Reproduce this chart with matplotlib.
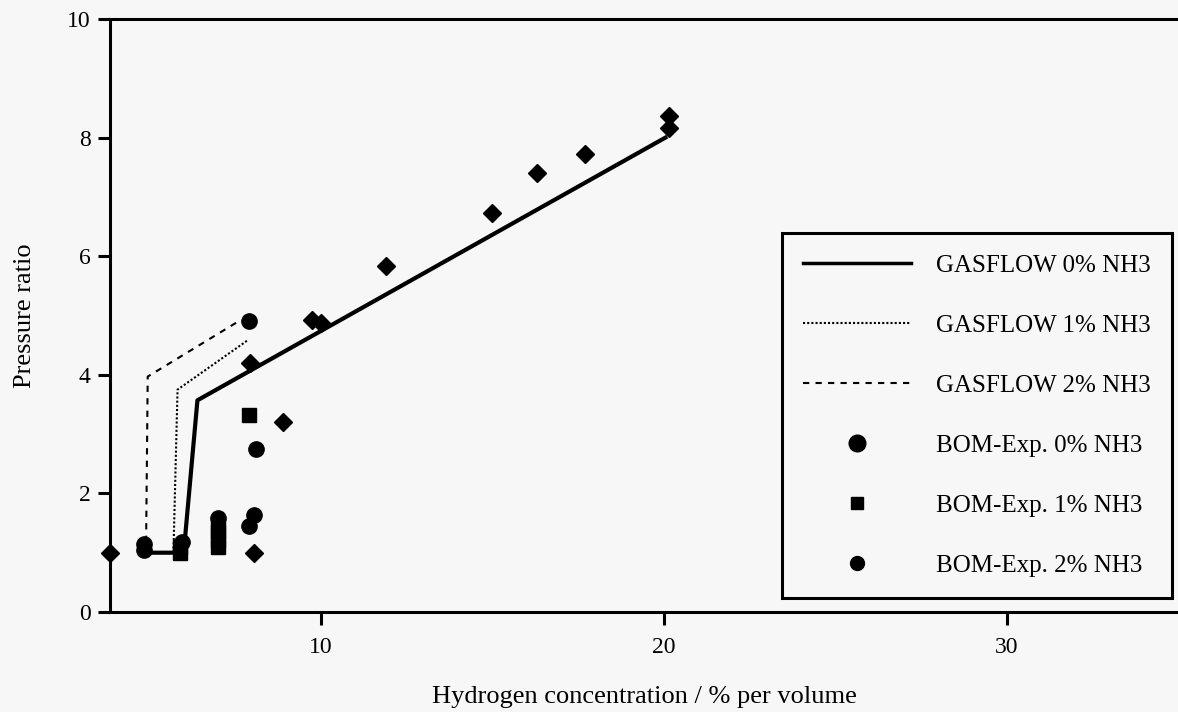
import matplotlib.pyplot as plt
from matplotlib.lines import Line2D

plt.rcParams['font.family'] = ['Liberation Serif', 'DejaVu Serif']

# GASFLOW simulation curves (H2 concentration vs pressure ratio)
gf0_x = [4.85, 6.0, 6.4, 20.05]
gf0_y = [1.0, 1.0, 3.57, 8.0]
gf1_x = [4.85, 5.7, 5.82, 7.86]
gf1_y = [1.0, 1.0, 3.75, 4.58]
gf2_x = [4.85, 4.9, 4.95, 7.65]
gf2_y = [1.0, 1.0, 3.97, 4.92]

# BOM experiments
exp0_x = [3.85, 8.05, 7.93, 8.9, 9.75, 10.0, 11.9, 15.0, 16.3, 17.7, 20.15, 20.15]
exp0_y = [1.0, 1.0, 4.2, 3.2, 4.93, 4.88, 5.83, 6.73, 7.4, 7.72, 8.37, 8.17]
exp1_x = [5.9, 5.9, 7.0, 7.0, 7.0, 7.0, 7.9]
exp1_y = [1.0, 1.1, 1.1, 1.22, 1.35, 1.45, 3.33]
exp2_x = [4.85, 4.85, 5.95, 7.0, 7.9, 8.05, 8.1, 7.9]
exp2_y = [1.05, 1.15, 1.18, 1.58, 1.45, 1.63, 2.75, 4.9]

fig = plt.figure(figsize=(11.78, 7.12), dpi=100, facecolor='#f7f7f7')
ax = fig.add_axes([110 / 1178, 1 - 612 / 712, 1 - 110 / 1178, (612 - 19) / 712])
ax.set_facecolor('#f7f7f7')

ax.plot(gf0_x, gf0_y, color='black', lw=3.0)
ax.plot(gf1_x, gf1_y, color='black', lw=1.5, linestyle=(0, (1, 1)))
ax.plot(gf2_x, gf2_y, color='black', lw=1.5, linestyle=(0, (3, 3)))

ax.plot(exp0_x, exp0_y, 'D', color='black', ms=9, clip_on=False)
ax.plot(exp1_x, exp1_y, 's', color='black', ms=9.5)
ax.plot(exp2_x, exp2_y, 'o', color='black', ms=11)

ax.set_xlim(3.85, 35.0)
ax.set_ylim(0, 10)
ax.set_xticks([10, 20, 30])
ax.set_yticks([0, 2, 4, 6, 8, 10])
ax.spines['right'].set_visible(False)
for s in ['left', 'bottom', 'top']:
    ax.spines[s].set_linewidth(2.2)
ax.tick_params(axis='both', direction='out', length=9, width=2.2, labelsize=17, pad=5)
ax.tick_params(axis='x', pad=9)

ax.set_xlabel('Hydrogen concentration / % per volume', fontsize=19, labelpad=20)
ax.set_ylabel('Pressure ratio', fontsize=19, labelpad=22)

handles = [
    Line2D([], [], color='black', lw=2.5),
    Line2D([], [], color='black', lw=1.5, linestyle=(0, (1, 1))),
    Line2D([], [], color='black', lw=1.5, linestyle=(0, (3, 3))),
    Line2D([], [], color='black', marker='o', ms=12, lw=0),
    Line2D([], [], color='black', marker='s', ms=9, lw=0),
    Line2D([], [], color='black', marker='o', ms=10, lw=0),
]
labels = ['GASFLOW 0% NH3', 'GASFLOW 1% NH3', 'GASFLOW 2% NH3',
          'BOM-Exp. 0% NH3', 'BOM-Exp. 1% NH3', 'BOM-Exp. 2% NH3']
leg = fig.legend(handles, labels, loc='upper left',
                 bbox_to_anchor=(782 / 1178, 1 - 233 / 712), borderaxespad=0,
                 fontsize=18, handlelength=4.3, handletextpad=1.0,
                 labelspacing=1.5, borderpad=0.85, fancybox=False,
                 framealpha=1, facecolor='#f7f7f7', edgecolor='black', numpoints=1)
leg.get_frame().set_linewidth(2.2)

fig.savefig('out.png', dpi=100, facecolor=fig.get_facecolor())
